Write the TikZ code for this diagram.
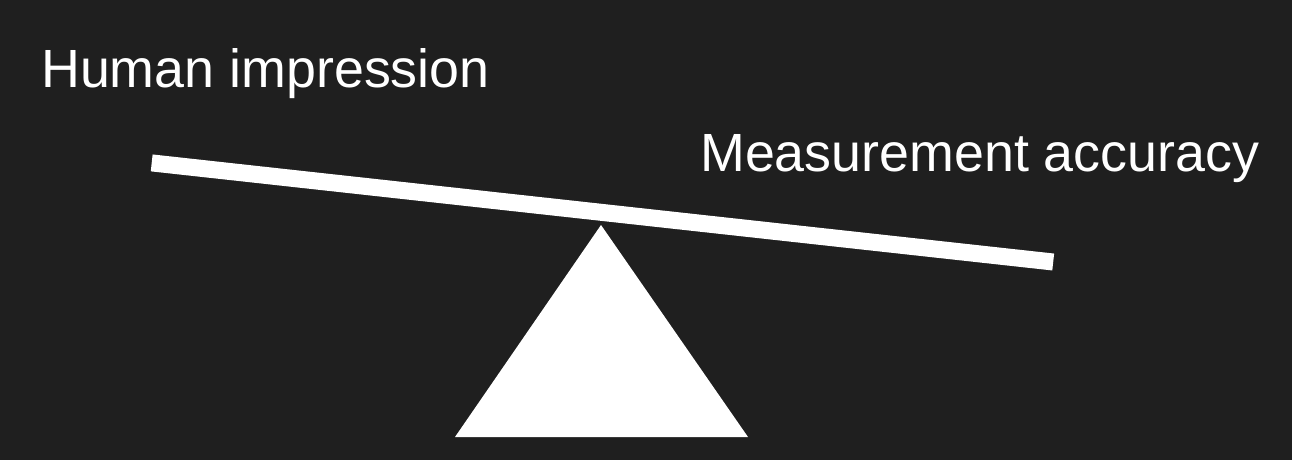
\documentclass[tikz,border=0pt]{standalone}
\usepackage{fontspec}
\setmainfont{Liberation Sans}
\definecolor{board}{RGB}{31,31,31}
\begin{document}
\begin{tikzpicture}[x=1pt, y=-1pt, label/.style = {text=white, inner sep=0pt, anchor=base west, font=\fontsize{53.8}{60}\selectfont}, beam/.style = {draw=white, line width=17pt}, fulcrum/.style = {fill=white}]
                \fill[board] (0,0) rectangle (1292,460);
                \useasboundingbox (0,0) rectangle (1292,460);
                \node[label] (human) at (41,87) {Human impression};
                \node[label] (meas) at (700,171) {Measurement accuracy};
                \coordinate (left) at (151.7,162.9);
                \coordinate (right) at (1053.2,262);
                \draw[beam] (left) -- (right);
                \fill[fulcrum] (601,225) -- (748,437) -- (455,437) -- cycle;
            \end{tikzpicture}
\end{document}
